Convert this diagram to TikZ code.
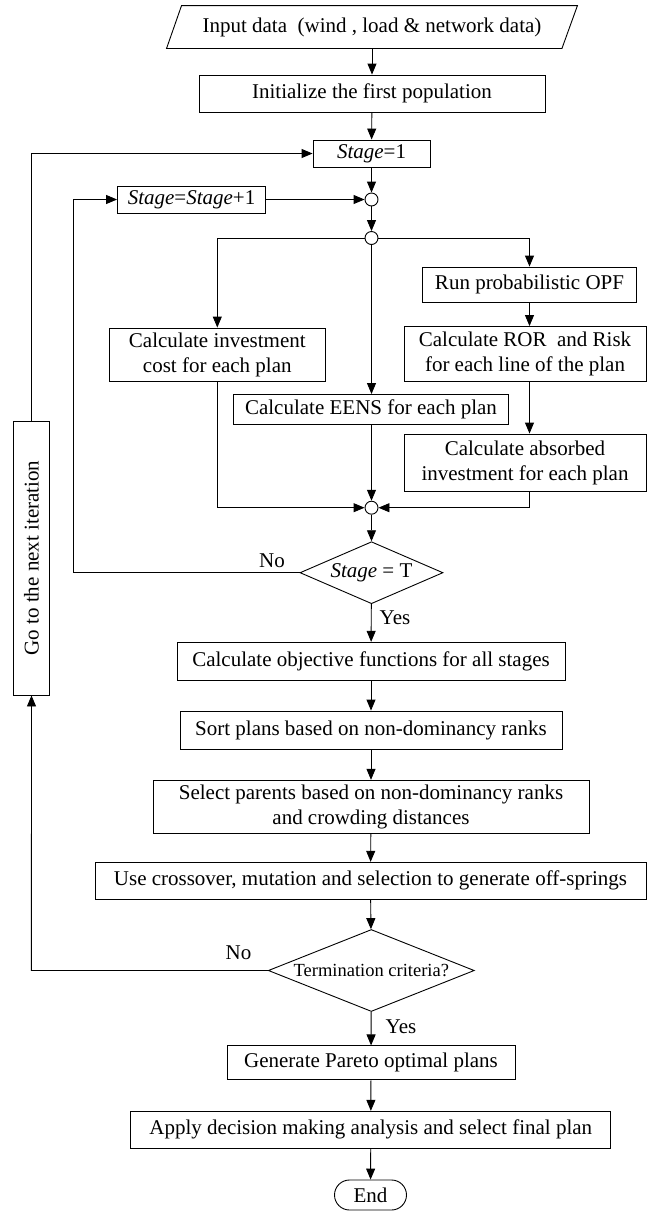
\documentclass[tikz,border=0pt]{standalone}
\usepackage{fontspec}
\setmainfont{Liberation Serif}
\usetikzlibrary{arrows.meta,shapes.geometric,shapes.misc}
\begin{document}
\begin{tikzpicture}[x=1pt,y=-1pt,line width=0.9pt,
    every node/.style={font=\fontsize{21}{25}\selectfont},
    box/.style={draw,rectangle,inner sep=0pt,align=center},
    junc/.style={draw,circle,inner sep=0pt,minimum size=13pt},
    cond/.style={draw,diamond,inner sep=0pt},
    arr/.style={-{Triangle[length=11pt,width=9pt]}}]
    \useasboundingbox (0,0) rectangle (647,1211);

    \node[inner sep=0pt,minimum width=395pt,minimum height=42pt] (input) at (372,27) {Input data\enspace(wind , load \& network data)};
    \draw ([xshift=7.5pt]input.north west) -- ([xshift=7.5pt]input.north east)
        -- ([xshift=-8pt]input.south east) -- ([xshift=-7.5pt]input.south west) -- cycle;
    \node[box,minimum width=346pt,minimum height=37pt] (init) at (372,93.5) {Initialize the first population};
    \node[box,minimum width=117pt,minimum height=27pt] (stage1) at (371.5,153.5) {\textit{Stage}=1};
    \node[junc] (c1) at (371.5,199.5) {};
    \node[box,minimum width=148pt,minimum height=27pt] (inc) at (191.5,199.5) {\textit{Stage}=\textit{Stage}+1};
    \node[junc] (c2) at (371.5,238) {};

    \node[box,minimum width=214pt,minimum height=35pt] (opf) at (529.5,284.5) {Run probabilistic OPF};
    \node[box,minimum width=216pt,minimum height=53pt] (inv) at (217.3,354.5) {Calculate investment\\cost for each plan};
    \node[box,minimum width=242pt,minimum height=55pt] (ror) at (525,354) {Calculate ROR\ \ and Risk\\for each line of the plan};
    \node[box,minimum width=275pt,minimum height=30pt] (eens) at (371,409.5) {Calculate EENS for each plan};
    \node[box,minimum width=242pt,minimum height=57pt] (absb) at (525,462.5) {Calculate absorbed\\investment for each plan};
    \node[junc] (c3) at (371.5,507.7) {};

    \node[cond,aspect=2.3,minimum width=143pt,minimum height=62pt] (stageT) at (371.5,572.7) {\textit{Stage} = T};
    \node (noA) at (272,561) {No};
    \node (yesA) at (395,618) {Yes};

    \node[box,minimum width=388pt,minimum height=38pt] (obj) at (371,661.3) {Calculate objective functions for all stages};
    \node[box,minimum width=382pt,minimum height=38pt] (sort) at (371,730) {Sort plans based on non-dominancy ranks};
    \node[box,minimum width=436pt,minimum height=53pt] (select) at (371,806.8) {Select parents based on non-dominancy ranks\\and crowding distances};
    \node[box,minimum width=551pt,minimum height=37pt] (cross) at (370.5,880.8) {Use crossover, mutation and selection to generate off-springs};

    \node[cond,aspect=2.5,minimum width=206pt,minimum height=82pt,font=\fontsize{18.5}{22}\selectfont] (term) at (371.3,970.5) {Termination criteria?};
    \node (noB) at (238.5,952.7) {No};
    \node (yesB) at (401,1026.7) {Yes};

    \node[box,minimum width=288pt,minimum height=34pt] (pareto) at (371,1062.9) {Generate Pareto optimal plans};
    \node[box,minimum width=480pt,minimum height=37pt] (apply) at (370.8,1129.8) {Apply decision making analysis and select final plan};
    \node[draw,rounded rectangle,minimum width=72pt,minimum height=30pt,inner sep=0pt] (fin) at (370.5,1195) {End};

    \node[box,rotate=90,minimum width=274pt,minimum height=36pt] (goto) at (31.5,558) {Go to the next iteration};

    \coordinate (loopA) at (73.3,572.7);
    \coordinate (loopB) at (31.4,970.5);

    % main column
    \draw[arr] (input) -- (init);
    \draw[arr] (init) -- (stage1);
    \draw[arr] (stage1) -- (c1);
    \draw[arr] (inc) -- (c1);
    \draw[arr] (c1) -- (c2);

    % branches
    \draw[arr] (c2) -| (inv);
    \draw[arr] (c2) -| (opf);
    \draw[arr] (c2) -- (c2 |- eens.north);
    \draw[arr] (opf.south) -- (opf.south |- ror.north);
    \draw[arr] (opf.south |- ror.south) -- (opf.south |- absb.north);
    \draw[arr] (inv) |- (c3);
    \draw[arr] (opf.south |- absb.south) |- (c3);
    \draw[arr] (c3 |- eens.south) -- (c3);
    \draw[arr] (c3) -- (stageT);

    % loops
    \draw[arr] (stageT) -- (loopA) |- (inc);
    \draw[arr] (term) -- (loopB) -- (goto.west);
    \draw[arr] (goto.east) |- (stage1);

    \draw[arr] (stageT) -- (obj);
    \draw[arr] (obj) -- (sort);
    \draw[arr] (sort) -- (select);
    \draw[arr] (select) -- (cross);
    \draw[arr] (cross) -- (term);
    \draw[arr] (term) -- (pareto);
    \draw[arr] (pareto) -- (apply);
    \draw[arr] (apply) -- (fin);
\end{tikzpicture}
\end{document}
